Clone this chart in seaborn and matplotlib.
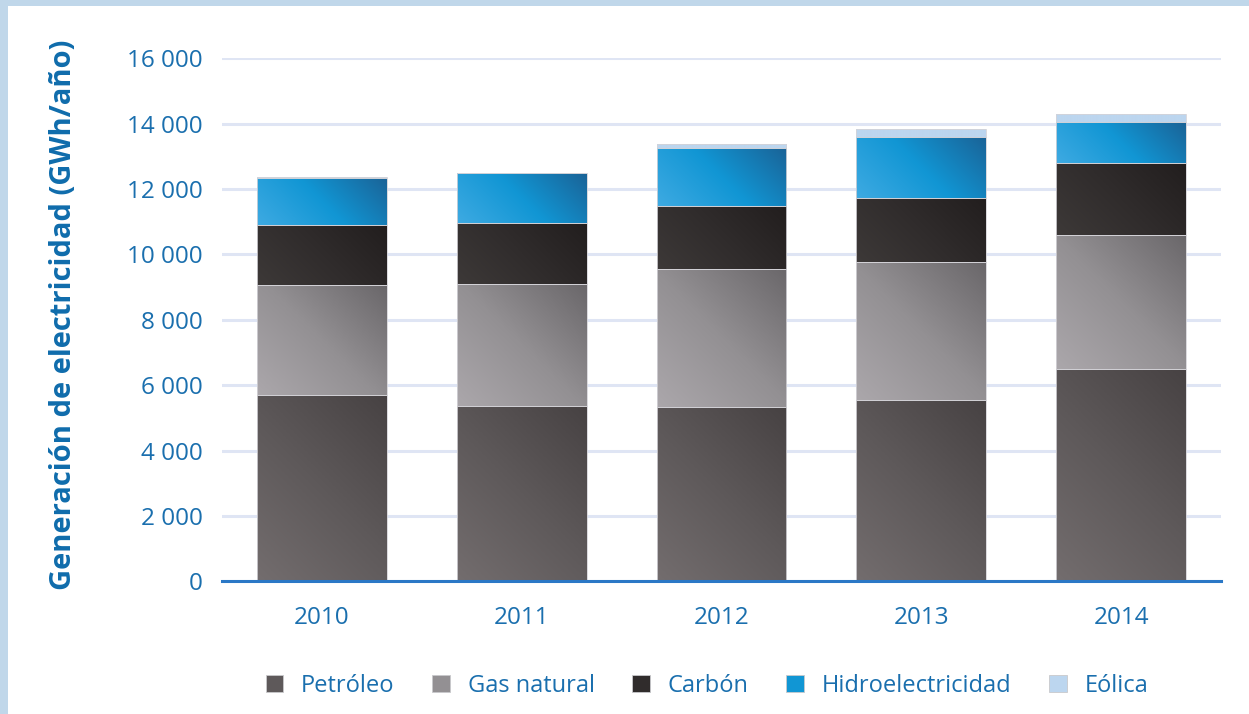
import numpy as np
import pandas as pd
import matplotlib
matplotlib.use("Agg")
import matplotlib.pyplot as plt
import seaborn as sns
from matplotlib.patches import Rectangle, Patch
from matplotlib.colors import LinearSegmentedColormap
from matplotlib import font_manager

# ---- data ----
years = ["2010", "2011", "2012", "2013", "2014"]
petroleo = [5700, 5360, 5320, 5560, 6490]
gas_natural = [3360, 3730, 4250, 4200, 4110]
carbon = [1850, 1870, 1910, 1970, 2200]
hidro = [1440, 1520, 1770, 1870, 1250]
eolica = [10, 20, 120, 240, 240]
series_names = ["Petróleo", "Gas natural", "Carbón", "Hidroelectricidad", "Eólica"]
yticks = [0, 2000, 4000, 6000, 8000, 10000, 12000, 14000, 16000]
ytick_labels = ["0", "2 000", "4 000", "6 000", "8 000", "10 000", "12 000", "14 000", "16 000"]
ylabel = "Generación de electricidad (GWh/año)"

series_values = [petroleo, gas_natural, carbon, hidro, eolica]

# ---- styling ----
BLUE = "#1a6fae"
gradients = [
    ["#736d6e", "#5e595a", "#474243"],
    ["#aba7ab", "#939093", "#6a676a"],
    ["#3d3938", "#302c2c", "#221e1e"],
    ["#3eaae2", "#1196d4", "#1a6397"],
    ["#bcd6ef", "#bcd6ef", "#bcd6ef"],
]
solid = [g[1] for g in gradients]

sns.set_theme(style="white")
avail = {f.name for f in font_manager.fontManager.ttflist}
main_font = "Open Sans" if "Open Sans" in avail else "DejaVu Sans"
legend_font = "Liberation Sans Narrow" if "Liberation Sans Narrow" in avail else main_font
plt.rcParams["font.family"] = [main_font, "DejaVu Sans"]

fig = plt.figure(figsize=(12.49, 7.14), dpi=100)
fig.patch.set_facecolor("white")
ax = fig.add_axes([222 / 1249, 1 - 581.4 / 714, 999 / 1249, (581.4 - 58.3) / 714])

df = pd.DataFrame({"year": years})
bottoms = np.zeros(len(years))
for name, vals, col in zip(series_names, series_values, solid):
    sns.barplot(x=df["year"], y=np.array(vals), bottom=bottoms.copy(), color=col,
                width=0.65, errorbar=None, ax=ax, edgecolor="#d4d3d8", linewidth=0.6,
                zorder=3, saturation=1)
    bottoms = bottoms + np.array(vals)

ax.set_xlim(-0.5, 4.5)
ax.set_ylim(0, 16000)

# gradient fill for each bar segment
fig.canvas.draw()
patches = list(ax.patches)
for i, p in enumerate(patches):
    sidx = i // len(years)
    cmap = LinearSegmentedColormap.from_list("g%d" % i, gradients[sidx])
    x0, y0 = p.get_x(), p.get_y()
    w, h = p.get_width(), p.get_height()
    if h <= 0:
        continue
    (px0, py0), (px1, py1) = ax.transData.transform([(x0, y0), (x0 + w, y0 + h)])
    wp, hp = abs(px1 - px0), abs(py1 - py0)
    n = 120
    xx, yy = np.meshgrid(np.linspace(0, 1, n), np.linspace(0, 1, n))
    t = (xx * wp + yy * hp) / (wp + hp)
    im = ax.imshow(t, cmap=cmap, origin="lower", extent=[x0, x0 + w, y0, y0 + h],
                   aspect="auto", zorder=3.5, interpolation="bilinear", vmin=0, vmax=1)
    im.set_clip_path(p)
    p.set_zorder(3.6)
    p.set_facecolor("none")

ax.set_xlim(-0.5, 4.5)
ax.set_ylim(0, 16000)

# grid & spines
ax.set_yticks(yticks)
ax.set_yticklabels(ytick_labels)
ax.yaxis.grid(True, color="#dfe5f4", linewidth=2.2, zorder=0)
ax.xaxis.grid(False)
for s in ["top", "right", "left"]:
    ax.spines[s].set_visible(False)
ax.spines["bottom"].set_color("#2b78c6")
ax.spines["bottom"].set_linewidth(2.2)
ax.spines["bottom"].set_zorder(5)
ax.tick_params(axis="both", length=0, colors=BLUE, labelsize=17.5)
ax.tick_params(axis="y", pad=14)
ax.tick_params(axis="x", pad=18)
for lab in ax.get_xticklabels() + ax.get_yticklabels():
    lab.set_color(BLUE)
ax.set_xlabel("")
ax.set_ylabel("")

fig.text(64 / 1249, 1 - 315 / 714, ylabel, rotation=90, ha="center", va="center",
         fontsize=21, fontweight="bold", color="#0f6cac", family=[main_font, "DejaVu Sans"])

# legend
handles = [Patch(facecolor=c, edgecolor="#c9c9cc", linewidth=0.6) for c in solid]
leg = fig.legend(handles, series_names, loc="center", bbox_to_anchor=(707 / 1249, 1 - 686 / 714),
                 ncol=5, frameon=False, handlelength=0.75, handleheight=0.75,
                 handletextpad=0.75, columnspacing=1.6,
                 prop={"family": [legend_font, "DejaVu Sans"], "size": 17})
for t in leg.get_texts():
    t.set_color(BLUE)

# light blue frame bands
fig.add_artist(Rectangle((0, 1 - 6 / 714), 1, 6 / 714, transform=fig.transFigure,
                         facecolor="#c0d7ea", edgecolor="none", zorder=10))
fig.add_artist(Rectangle((0, 0), 8 / 1249, 1, transform=fig.transFigure,
                         facecolor="#c0d7ea", edgecolor="none", zorder=10))

fig.savefig("out.png", dpi=100, facecolor="white")
